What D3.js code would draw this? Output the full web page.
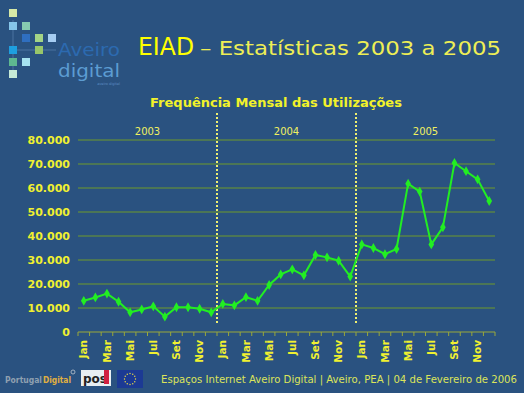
<!DOCTYPE html>
<html>
<head>
<meta charset="utf-8">
<script src="https://cdnjs.cloudflare.com/ajax/libs/d3/7.8.5/d3.min.js"></script>
<style>
  html, body { margin: 0; padding: 0; background: #2a5280; }
  svg { display: block; font-family: "DejaVu Sans", Verdana, sans-serif; }
</style>
</head>
<body>
<svg id="chart" width="524" height="393"></svg>
<script>
// months shown on the axis (36 in total, three years)
var monthNames = ["Jan","Fev","Mar","Abr","Mai","Jun","Jul","Ago","Set","Out","Nov","Dez"];
var years = ["2003", "2004", "2005"];

// utilizações por mês
var values2003 = [13000, 14400, 16000, 12600, 8200, 9400, 10700, 6400, 10300, 10300, 9700, 8200];
var values2004 = [11700, 11100, 14500, 13000, 19600, 24000, 26100, 23600, 32100, 31100, 29700, 23100];
var values2005 = [36500, 35000, 32400, 34600, 61800, 58500, 36500, 43600, 70400, 67000, 63600, 54600];

var yTicks = [0, 10000, 20000, 30000, 40000, 50000, 60000, 70000, 80000];

var svg = d3.select("#chart");

// background
svg.append("rect").attr("width", 524).attr("height", 393).attr("fill", "#2a5280");

// ---- logo (Aveiro digital) ----
var squares = [
  [9, 9, "#d6e8a6"],
  [9, 22, "#86c6ea"], [22, 22, "#86cbb0"],
  [22, 34, "#2f6fc0"], [35, 34, "#a4d486"], [48, 34, "#a6cdf2"],
  [9, 46, "#1e9fe0"], [35, 46, "#98c66a"],
  [9, 58, "#5eb890"], [22, 58, "#a6e2f0"],
  [9, 70, "#c6ead6"]
];
var logo = svg.append("g");
logo.append("line").attr("x1", 13).attr("x2", 13).attr("y1", 20).attr("y2", 70)
  .attr("stroke", "#4a72a0").attr("stroke-width", 1);
logo.append("line").attr("x1", 9).attr("x2", 56).attr("y1", 50).attr("y2", 50)
  .attr("stroke", "#4a72a0").attr("stroke-width", 1);
logo.selectAll("rect.sq").data(squares).enter().append("rect")
  .attr("class", "sq")
  .attr("x", function(d) { return d[0]; })
  .attr("y", function(d) { return d[1]; })
  .attr("width", 8).attr("height", 8)
  .attr("fill", function(d) { return d[2]; });
logo.append("text").attr("x", 58).attr("y", 56).text("Aveiro")
  .attr("font-size", 17.5).attr("textLength", 62).attr("lengthAdjust", "spacingAndGlyphs")
  .attr("fill", "#2c6ab0");
logo.append("text").attr("x", 58).attr("y", 77).text("digital")
  .attr("font-size", 17.5).attr("textLength", 62).attr("lengthAdjust", "spacingAndGlyphs")
  .attr("fill", "#5c9cd2");
logo.append("text").attr("x", 120).attr("y", 85).text("aveiro digital")
  .attr("text-anchor", "end").attr("font-size", 3.5).attr("fill", "#5c8cc0");

// ---- title ----
svg.append("text").attr("x", 138).attr("y", 55).attr("font-size", 24)
  .attr("textLength", 56).attr("lengthAdjust", "spacingAndGlyphs")
  .attr("fill", "#ffff00").text("EIAD");
svg.append("text").attr("x", 200).attr("y", 55).attr("font-size", 20)
  .attr("textLength", 301).attr("lengthAdjust", "spacingAndGlyphs")
  .attr("fill", "#eeee55").text("– Estatísticas 2003 a 2005");

svg.append("text").attr("x", 276).attr("y", 107)
  .attr("text-anchor", "middle").attr("font-size", 13).attr("font-weight", "bold")
  .attr("fill", "#f2f22a").text("Frequência Mensal das Utilizações");

// ---- chart ----
var margin = {top: 140, right: 29, bottom: 61, left: 78},
    width = 524 - margin.left - margin.right,
    height = 393 - margin.top - margin.bottom;

var data = [];
[values2003, values2004, values2005].forEach(function(vals, yi) {
  vals.forEach(function(v, mi) {
    data.push({key: years[yi] + "-" + mi, month: monthNames[mi], value: v});
  });
});

var x = d3.scaleBand()
  .domain(data.map(function(d) { return d.key; }))
  .range([0, width]);

var y = d3.scaleLinear().domain([0, 80000]).range([height, 0]);

var g = svg.append("g").attr("transform", "translate(" + margin.left + "," + margin.top + ")");

// gridlines
g.selectAll("line.grid").data(yTicks.slice(1)).enter().append("line")
  .attr("class", "grid")
  .attr("x1", 0).attr("x2", width)
  .attr("y1", function(d) { return y(d); })
  .attr("y2", function(d) { return y(d); })
  .attr("stroke", "#6f9a2a").attr("stroke-width", 1.2);

// y axis labels
var fmt = function(d) { return d3.format(",")(d).replace(/,/g, "."); };
g.selectAll("text.ylab").data(yTicks).enter().append("text")
  .attr("class", "ylab")
  .attr("x", -8)
  .attr("y", function(d) { return y(d); })
  .attr("dy", "0.35em")
  .attr("text-anchor", "end")
  .attr("font-size", 11).attr("font-weight", "bold")
  .attr("fill", "#f0f030")
  .text(fmt);

// x axis
g.append("line").attr("x1", 0).attr("x2", width).attr("y1", height).attr("y2", height)
  .attr("stroke", "#9aa83a").attr("stroke-width", 1.2);
var boundaries = d3.range(37).map(function(i) { return i * x.step(); });
g.selectAll("line.tick").data(boundaries).enter().append("line")
  .attr("class", "tick")
  .attr("x1", function(d) { return d; }).attr("x2", function(d) { return d; })
  .attr("y1", height).attr("y2", height + 4)
  .attr("stroke", "#9aa83a").attr("stroke-width", 1);

g.selectAll("text.xlab").data(data.filter(function(d, i) { return i % 2 === 0; }))
  .enter().append("text")
  .attr("class", "xlab")
  .attr("transform", function(d) {
    return "translate(" + (x(d.key) + x.bandwidth() / 2) + "," + (height + 8) + ") rotate(-90)";
  })
  .attr("dy", "0.35em")
  .attr("text-anchor", "end")
  .attr("font-size", 10.5).attr("font-weight", "bold")
  .attr("fill", "#f0f030")
  .text(function(d) { return d.month; });

// year separators
[1, 2].forEach(function(yi) {
  var xx = x(years[yi] + "-0");
  g.append("line").attr("x1", xx).attr("x2", xx)
    .attr("y1", 113 - margin.top).attr("y2", height - 8)
    .attr("stroke", "#f0f070").attr("stroke-width", 2)
    .attr("stroke-dasharray", "2,2");
});
years.forEach(function(yr, yi) {
  var mid = (x(yr + "-0") + x(yr + "-11") + x.bandwidth()) / 2;
  g.append("text").attr("x", mid).attr("y", 135 - margin.top)
    .attr("text-anchor", "middle").attr("font-size", 10)
    .attr("fill", "#f0f060").text(yr);
});

// line
var line = d3.line()
  .x(function(d) { return x(d.key) + x.bandwidth() / 2; })
  .y(function(d) { return y(d.value); });

g.append("path").datum(data)
  .attr("d", line)
  .attr("fill", "none").attr("stroke", "#22ee22").attr("stroke-width", 2);

g.selectAll("path.pt").data(data).enter().append("path")
  .attr("class", "pt")
  .attr("d", d3.symbol().type(d3.symbolDiamond).size(28))
  .attr("transform", function(d) {
    return "translate(" + (x(d.key) + x.bandwidth() / 2) + "," + y(d.value) + ")";
  })
  .attr("fill", "#22ee22");

// ---- footer ----
svg.append("text").attr("x", 161).attr("y", 383)
  .attr("font-size", 10.2).attr("fill", "#dce45a")
  .attr("textLength", 356).attr("lengthAdjust", "spacingAndGlyphs")
  .text("Espaços Internet Aveiro Digital |  Aveiro, PEA  |  04 de Fevereiro de 2006");

var foot = svg.append("g");
foot.append("text").attr("x", 5).attr("y", 383).attr("font-size", 8)
  .attr("textLength", 37).attr("lengthAdjust", "spacingAndGlyphs")
  .attr("fill", "#8fa0b0").attr("font-weight", "bold").text("Portugal");
foot.append("text").attr("x", 43).attr("y", 383).attr("font-size", 9)
  .attr("textLength", 28).attr("lengthAdjust", "spacingAndGlyphs")
  .attr("font-weight", "bold").attr("fill", "#e0b040").text("Digital");
foot.append("circle").attr("cx", 73).attr("cy", 372).attr("r", 2)
  .attr("fill", "none").attr("stroke", "#c0c8d0").attr("stroke-width", 0.8);
foot.append("rect").attr("x", 81).attr("y", 370).attr("width", 30).attr("height", 16)
  .attr("fill", "#e8eef2");
foot.append("text").attr("x", 83).attr("y", 383).attr("font-size", 12)
  .attr("font-weight", "bold").attr("fill", "#222").text("pos");
foot.append("rect").attr("x", 104).attr("y", 370).attr("width", 5).attr("height", 14)
  .attr("fill", "#d02040");
foot.append("rect").attr("x", 117).attr("y", 370).attr("width", 26).attr("height", 18)
  .attr("fill", "#1c3a94");
foot.selectAll("circle.star").data(d3.range(12)).enter().append("circle")
  .attr("class", "star")
  .attr("cx", function(d) { return 130 + 5.5 * Math.cos(d * Math.PI / 6); })
  .attr("cy", function(d) { return 379 + 5.5 * Math.sin(d * Math.PI / 6); })
  .attr("r", 0.7).attr("fill", "#f0e040");
</script>
</body>
</html>
